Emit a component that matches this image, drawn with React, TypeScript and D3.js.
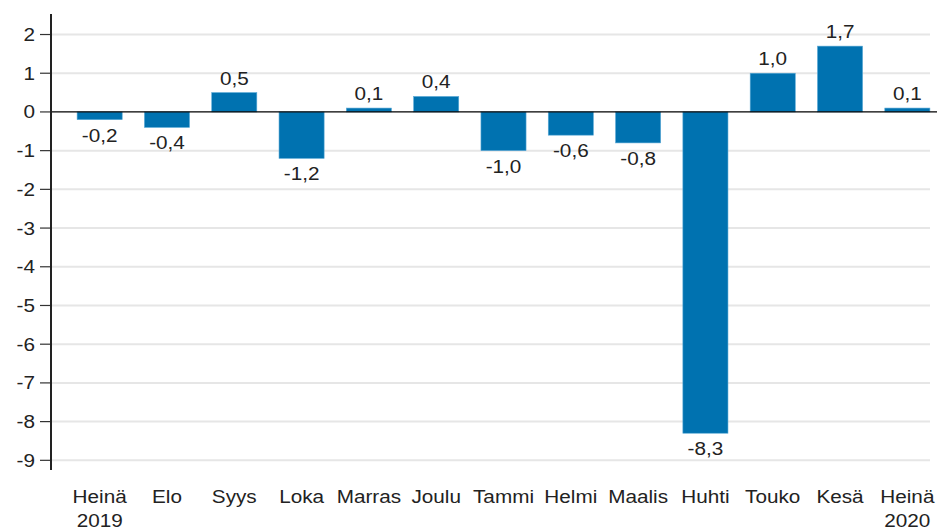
import React, { useEffect, useRef } from 'react';
import * as d3 from 'd3';

const months = ['Heinä', 'Elo', 'Syys', 'Loka', 'Marras', 'Joulu', 'Tammi', 'Helmi', 'Maalis', 'Huhti', 'Touko', 'Kesä', 'Heinä'];
const years = ['2019', '', '', '', '', '', '', '', '', '', '', '', '2020'];
const values = [-0.2, -0.4, 0.5, -1.2, 0.1, 0.4, -1.0, -0.6, -0.8, -8.3, 1.0, 1.7, 0.1];
const yTicks = [2, 1, 0, -1, -2, -3, -4, -5, -6, -7, -8, -9];

const App = () => {
  const svgRef = useRef<SVGSVGElement>(null);

  useEffect(() => {
    const svg = d3.select(svgRef.current);
    svg.selectAll('*').remove();

    const width = 937;
    const height = 529;
    const axisX = 51;
    const font = '"Liberation Sans", Arial, sans-serif';
    const fs = '18.5px';
    const sx = 1.12; // reference text is slightly stretched horizontally

    const y = d3.scaleLinear().domain([-9.25, 2.53]).range([470, 14]);
    const idx = months.map((_, i) => i);
    const x = d3.scaleBand<number>()
      .domain(idx)
      .range([66, 941])
      .paddingInner(0.33)
      .paddingOuter(0.165);
    const cx = (i: number) => x(i)! + x.bandwidth() / 2;

    // gridlines
    svg.append('g')
      .selectAll('line')
      .data(yTicks.filter(t => t !== 0))
      .enter().append('line')
      .attr('x1', axisX)
      .attr('x2', 930)
      .attr('y1', d => y(d))
      .attr('y2', d => y(d))
      .attr('stroke', '#e6e6e6')
      .attr('stroke-width', 2);

    // bars
    svg.append('g')
      .selectAll('rect')
      .data(values)
      .enter().append('rect')
      .attr('x', (d, i) => x(i)!)
      .attr('width', x.bandwidth())
      .attr('y', d => y(Math.max(0, d)))
      .attr('height', d => Math.abs(y(d) - y(0)))
      .attr('fill', '#0072b0')
      .attr('stroke', '#5aa9d6')
      .attr('stroke-width', 0.6);

    // zero line
    svg.append('line')
      .attr('x1', axisX)
      .attr('x2', width)
      .attr('y1', y(0))
      .attr('y2', y(0))
      .attr('stroke', '#000')
      .attr('stroke-width', 1.2);

    // y axis ticks + labels
    const ticks = svg.append('g');
    ticks.selectAll('line')
      .data(yTicks)
      .enter().append('line')
      .attr('x1', axisX - 11)
      .attr('x2', axisX)
      .attr('y1', d => y(d))
      .attr('y2', d => y(d))
      .attr('stroke', '#333')
      .attr('stroke-width', 1.2);
    ticks.selectAll('text')
      .data(yTicks)
      .enter().append('text')
      .attr('transform', d => `translate(35,${y(d) + 6.5}) scale(${sx},1)`)
      .attr('text-anchor', 'end')
      .attr('fill', '#222')
      .style('font-family', font)
      .style('font-size', fs)
      .text(d => String(d));
    svg.append('line')
      .attr('x1', axisX)
      .attr('x2', axisX)
      .attr('y1', y.range()[1])
      .attr('y2', y.range()[0])
      .attr('stroke', '#222')
      .attr('stroke-width', 2);

    // value labels
    svg.append('g')
      .selectAll('text')
      .data(values)
      .enter().append('text')
      .attr('transform', (d, i) => `translate(${cx(i)},${d >= 0 ? y(d) - 8 : y(d) + 22}) scale(${sx},1)`)
      .attr('text-anchor', 'middle')
      .attr('fill', '#222')
      .style('font-family', font)
      .style('font-size', fs)
      .text(d => d.toFixed(1).replace('.', ','));

    // category labels
    const cats = svg.append('g');
    cats.selectAll('text.m')
      .data(months)
      .enter().append('text')
      .attr('class', 'm')
      .attr('transform', (d, i) => `translate(${cx(i)},503) scale(${sx},1)`)
      .attr('text-anchor', 'middle')
      .attr('fill', '#222')
      .style('font-family', font)
      .style('font-size', fs)
      .text(d => d);
    cats.selectAll('text.yr')
      .data(years)
      .enter().append('text')
      .attr('class', 'yr')
      .attr('transform', (d, i) => `translate(${cx(i)},526.5) scale(${sx},1)`)
      .attr('text-anchor', 'middle')
      .attr('fill', '#222')
      .style('font-family', font)
      .style('font-size', fs)
      .text(d => d);

    svg.attr('width', width).attr('height', height);
  }, []);

  return <svg ref={svgRef} style={{ position: 'absolute', left: 0, top: 0, background: '#fff' }}></svg>;
};

export default App;
